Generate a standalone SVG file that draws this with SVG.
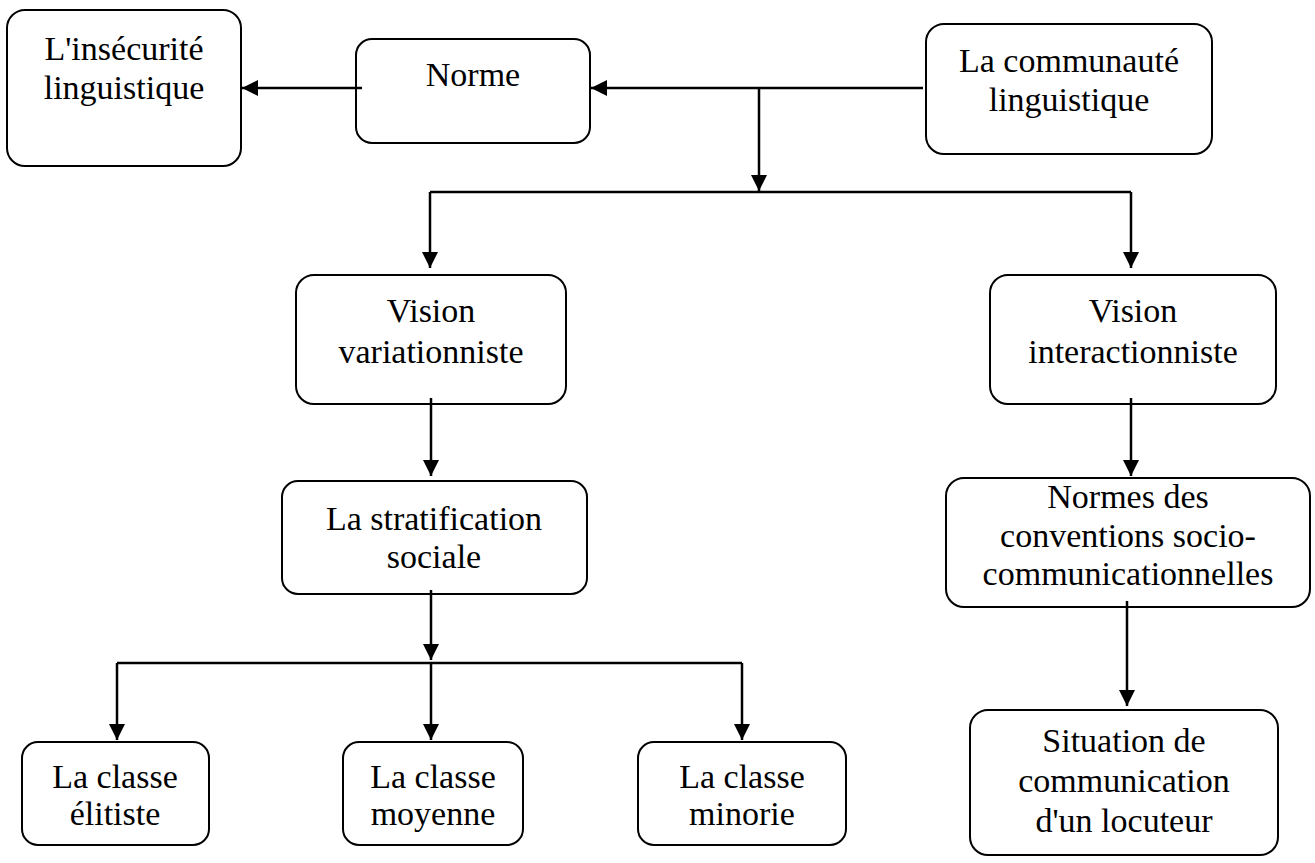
<svg xmlns="http://www.w3.org/2000/svg" width="1315" height="863" viewBox="0 0 1315 863">
<style>
.box{fill:#fff;stroke:#000;stroke-width:2}
.t{font-family:"Liberation Serif","Times New Roman",serif;font-size:34px;fill:#000;text-anchor:middle}
.c{fill:none;stroke:#000;stroke-width:2.5}
</style>
<defs>
<marker id="ah" markerUnits="userSpaceOnUse" markerWidth="16" markerHeight="16" refX="16" refY="8" orient="auto">
<path d="M0,0 L16,8 L0,16 z" fill="#000"/>
</marker>
</defs>
<rect width="1315" height="863" fill="#fff"/>
<g id="insecurite">
<rect class="box" x="7" y="10" width="234" height="156" rx="18"/>
<text class="t" x="124" y="60">L'insécurité</text>
<text class="t" x="124" y="99">linguistique</text>
</g>
<g id="norme">
<rect class="box" x="356" y="39" width="234" height="104" rx="16"/>
<text class="t" x="473" y="86">Norme</text>
</g>
<g id="communaute">
<rect class="box" x="926" y="24" width="286" height="130" rx="18"/>
<text class="t" x="1069" y="72">La communauté</text>
<text class="t" x="1069" y="111">linguistique</text>
</g>
<g id="variationniste">
<rect class="box" x="296" y="275" width="270" height="129" rx="18"/>
<text class="t" x="431" y="322">Vision</text>
<text class="t" x="431" y="363">variationniste</text>
</g>
<g id="interactionniste">
<rect class="box" x="990" y="275" width="286" height="129" rx="18"/>
<text class="t" x="1133" y="322">Vision</text>
<text class="t" x="1133" y="363">interactionniste</text>
</g>
<g id="stratification">
<rect class="box" x="282" y="481" width="305" height="113" rx="16"/>
<text class="t" x="434" y="530">La stratification</text>
<text class="t" x="434" y="568">sociale</text>
</g>
<g id="normes">
<rect class="box" x="946" y="478" width="364" height="129" rx="18"/>
<text class="t" x="1128" y="508">Normes des</text>
<text class="t" x="1128" y="547">conventions socio-</text>
<text class="t" x="1128" y="585">communicationnelles</text>
</g>
<g id="situation">
<rect class="box" x="970" y="710" width="308" height="145" rx="18"/>
<text class="t" x="1124" y="752">Situation de</text>
<text class="t" x="1124" y="792">communication</text>
<text class="t" x="1124" y="832">d'un locuteur</text>
</g>
<g id="elitiste">
<rect class="box" x="22" y="742" width="187" height="103" rx="16"/>
<text class="t" x="115" y="788">La classe</text>
<text class="t" x="115" y="825">élitiste</text>
</g>
<g id="moyenne">
<rect class="box" x="343" y="742" width="180" height="103" rx="16"/>
<text class="t" x="433" y="788">La classe</text>
<text class="t" x="433" y="825">moyenne</text>
</g>
<g id="minorie">
<rect class="box" x="638" y="742" width="208" height="103" rx="16"/>
<text class="t" x="742" y="788">La classe</text>
<text class="t" x="742" y="825">minorie</text>
</g>
<g id="connectors">
<path class="c" d="M923,88 H591" marker-end="url(#ah)"/>
<path class="c" d="M362,88 H242" marker-end="url(#ah)"/>
<path class="c" d="M759,88 V191" marker-end="url(#ah)"/>
<path class="c" d="M430,192 H1131"/>
<path class="c" d="M430,192 V268" marker-end="url(#ah)"/>
<path class="c" d="M1131,192 V268" marker-end="url(#ah)"/>
<path class="c" d="M431,398 V476" marker-end="url(#ah)"/>
<path class="c" d="M1131,398 V476" marker-end="url(#ah)"/>
<path class="c" d="M431,590 V660" marker-end="url(#ah)"/>
<path class="c" d="M117,663 H742"/>
<path class="c" d="M117,663 V740" marker-end="url(#ah)"/>
<path class="c" d="M431,663 V740" marker-end="url(#ah)"/>
<path class="c" d="M742,663 V740" marker-end="url(#ah)"/>
<path class="c" d="M1127,601 V706" marker-end="url(#ah)"/>
</g>
</svg>
